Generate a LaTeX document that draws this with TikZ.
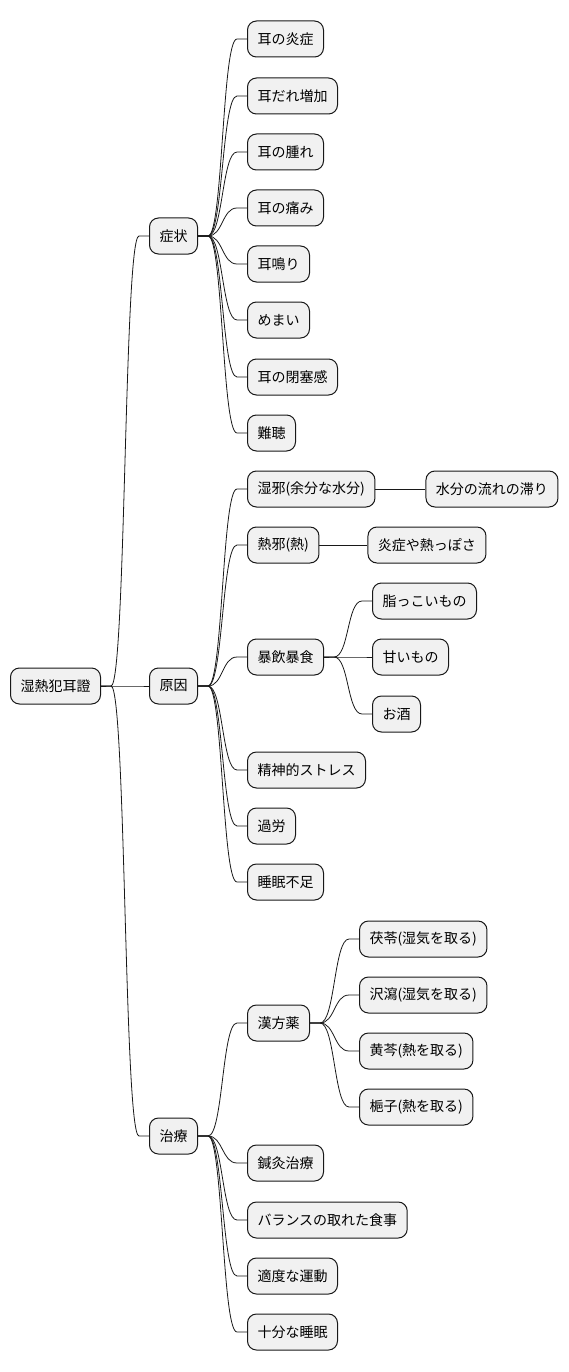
\documentclass[tikz,border=0pt]{standalone}
\usepackage{fontspec}
\setmainfont{Noto Sans CJK JP}
\usetikzlibrary{positioning}
\definecolor{boxfill}{HTML}{F1F1F1}
\definecolor{edgeline}{HTML}{181818}
\tikzset{
  topic/.style={draw=edgeline, line width=1pt, fill=boxfill, rounded corners=9pt,
    minimum height=36pt, inner xsep=10pt, inner ysep=0pt,
    font=\fontsize{14pt}{16pt}\selectfont, anchor=west},
  link/.style={draw=edgeline, line width=0.8pt},
}
% S-shaped connector from a parent to a child
\newcommand{\branch}[2]{\draw[link] (#1.east) -- ++(10,0) .. controls +(15,0) and ([xshift=-25pt]#2.west) .. ([xshift=-10pt]#2.west) -- (#2.west);}
\begin{document}
\begin{tikzpicture}[x=1pt,y=-1pt]
\useasboundingbox (0,0) rectangle (569,1372);

% root and main branches
\node[topic] (root) at (10,686) {湿熱犯耳證};
\node[topic] (shojo) at (149,236) {症状};
\node[topic] (genin) at (149,686) {原因};
\node[topic] (chiryo) at (149,1136) {治療};

% symptoms
\node[topic] (s1) at (247,39) {耳の炎症};
\node[topic] (s2) at (247,96) {耳だれ増加};
\node[topic] (s3) at (247,152) {耳の腫れ};
\node[topic] (s4) at (247,208) {耳の痛み};
\node[topic] (s5) at (247,264) {耳鳴り};
\node[topic] (s6) at (247,320) {めまい};
\node[topic] (s7) at (247,377) {耳の閉塞感};
\node[topic] (s8) at (247,433) {難聴};

% causes
\node[topic] (shitsuja) at (247,489) {湿邪(余分な水分)};
\node[topic] (netsuja) at (247,545) {熱邪(熱)};
\node[topic] (boin) at (247,657) {暴飲暴食};
\node[topic] (c4) at (247,770) {精神的ストレス};
\node[topic] (c5) at (247,826) {過労};
\node[topic] (c6) at (247,882) {睡眠不足};

\path (shitsuja.east) ++(50,0) coordinate (x1);
\path (netsuja.east) ++(48,0) coordinate (x2);
\path (boin.east) ++(48,0) coordinate (x3);
\node[topic] (suibun) at (x1) {水分の流れの滞り};
\node[topic] (ensho) at (x2) {炎症や熱っぽさ};
\node[topic] (b1) at (x3 |- 0,601) {脂っこいもの};
\node[topic] (b2) at (x3 |- 0,657) {甘いもの};
\node[topic] (b3) at (x3 |- 0,714) {お酒};

% treatment
\node[topic] (kampo) at (247,1023) {漢方薬};
\node[topic] (t2) at (247,1163) {鍼灸治療};
\node[topic] (t3) at (247,1220) {バランスの取れた食事};
\node[topic] (t4) at (247,1276) {適度な運動};
\node[topic] (t5) at (247,1332) {十分な睡眠};

\path (kampo.east) ++(49,0) coordinate (x4);
\node[topic] (k1) at (x4 |- 0,939) {茯苓(湿気を取る)};
\node[topic] (k2) at (x4 |- 0,995) {沢瀉(湿気を取る)};
\node[topic] (k3) at (x4 |- 0,1051) {黄芩(熱を取る)};
\node[topic] (k4) at (x4 |- 0,1107) {梔子(熱を取る)};

% connectors
\foreach \c in {shojo,genin,chiryo} {\branch{root}{\c}}
\foreach \c in {s1,s2,s3,s4,s5,s6,s7,s8} {\branch{shojo}{\c}}
\foreach \c in {shitsuja,netsuja,boin,c4,c5,c6} {\branch{genin}{\c}}
\foreach \c in {kampo,t2,t3,t4,t5} {\branch{chiryo}{\c}}
\foreach \c in {b1,b2,b3} {\branch{boin}{\c}}
\foreach \c in {k1,k2,k3,k4} {\branch{kampo}{\c}}
\draw[link] (shitsuja) -- (suibun);
\draw[link] (netsuja) -- (ensho);
\end{tikzpicture}
\end{document}
